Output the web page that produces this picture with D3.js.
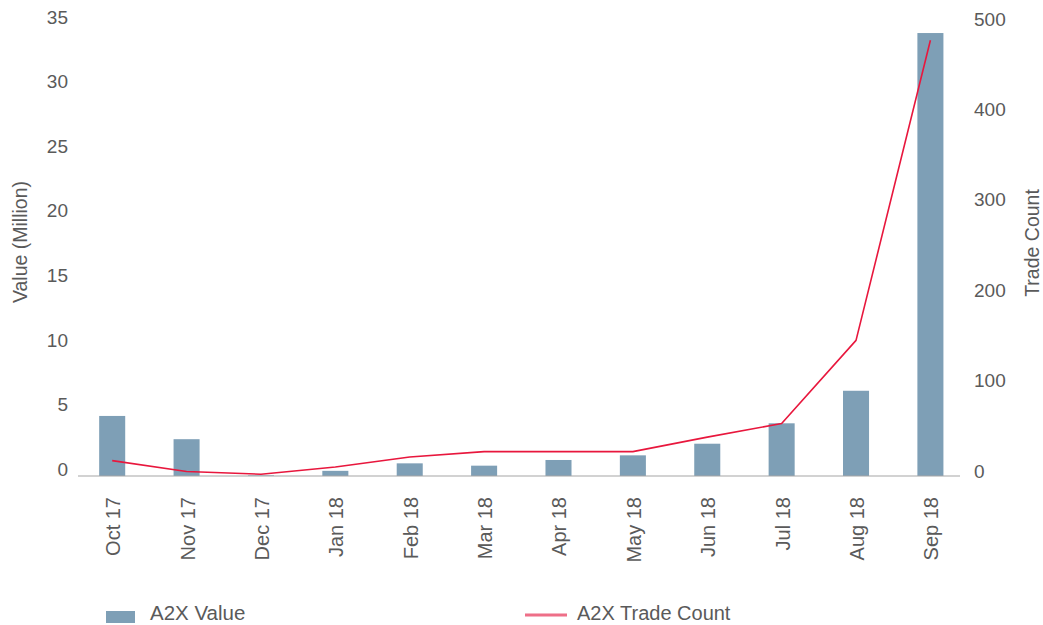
<!DOCTYPE html>
<html>
<head>
<meta charset="utf-8">
<script src="https://cdn.jsdelivr.net/npm/d3@7/dist/d3.min.js"></script>
<style>
  body { margin: 0; background: #fff; }
  text { font-family: "Liberation Sans", Arial, sans-serif; fill: #5a5a5a; }
</style>
</head>
<body>
<div id="chart"></div>
<script>
// chart data
const months = ['Oct 17', 'Nov 17', 'Dec 17', 'Jan 18', 'Feb 18', 'Mar 18',
                'Apr 18', 'May 18', 'Jun 18', 'Jul 18', 'Aug 18', 'Sep 18'];
const valueMillion = [4.65, 2.85, 0.05, 0.4, 0.98, 0.8, 1.24, 1.6, 2.5, 4.08, 6.6, 34.3];
const tradeCount = [17, 5, 2, 10, 21, 27, 27, 27, 43, 58, 150, 482];
const leftTicks = [0, 5, 10, 15, 20, 25, 30, 35];
const rightTicks = [0, 100, 200, 300, 400, 500];

const width = 1043, height = 625;
const barColor = '#7e9fb6';
const lineColor = '#e8173d';

const svg = d3.select('#chart').append('svg')
  .attr('width', width)
  .attr('height', height);

const x = d3.scaleBand()
  .domain(months)
  .range([75, 967.6])
  .paddingInner(0.65)
  .paddingOuter(0.325);

const yLeft = d3.scaleLinear().domain([0, 35]).range([476, 24]);
const yRight = d3.scaleLinear().domain([0, 500]).range([476, 24]);

// bars
svg.selectAll('.bar')
  .data(valueMillion)
  .enter().append('rect')
  .attr('class', 'bar')
  .attr('x', (d, i) => x(months[i]))
  .attr('y', d => yLeft(d))
  .attr('width', x.bandwidth())
  .attr('height', d => yLeft(0) - yLeft(d))
  .attr('fill', barColor);

// baseline
svg.append('line')
  .attr('x1', 78).attr('x2', 960)
  .attr('y1', yLeft(0)).attr('y2', yLeft(0))
  .attr('stroke', '#a6a6a6')
  .attr('stroke-width', 1.2);

// trade count line
const line = d3.line()
  .x((d, i) => x(months[i]) + x.bandwidth() / 2)
  .y(d => yRight(d));

svg.append('path')
  .datum(tradeCount)
  .attr('d', line)
  .attr('fill', 'none')
  .attr('stroke', lineColor)
  .attr('stroke-width', 1.6)
  .attr('stroke-linejoin', 'round');

// left axis labels
svg.selectAll('.ltick')
  .data(leftTicks)
  .enter().append('text')
  .attr('class', 'ltick')
  .attr('x', 68)
  .attr('y', d => yLeft(d) - 7)
  .attr('dy', '0.35em')
  .attr('text-anchor', 'end')
  .style('font-size', '19px')
  .text(d => d);

// right axis labels
svg.selectAll('.rtick')
  .data(rightTicks)
  .enter().append('text')
  .attr('class', 'rtick')
  .attr('x', 974)
  .attr('y', d => yRight(d) - 5)
  .attr('dy', '0.35em')
  .attr('text-anchor', 'start')
  .style('font-size', '19px')
  .text(d => d);

// x labels
svg.selectAll('.xtick')
  .data(months)
  .enter().append('text')
  .attr('class', 'xtick')
  .attr('transform', d => `translate(${x(d) + x.bandwidth() / 2 + 1},497) rotate(-90)`)
  .attr('dy', '0.35em')
  .attr('text-anchor', 'end')
  .style('font-size', '20px')
  .text(d => d);

// axis titles
svg.append('text')
  .attr('transform', 'translate(20,242) rotate(-90)')
  .attr('dy', '0.35em')
  .attr('text-anchor', 'middle')
  .style('font-size', '19.5px')
  .text('Value (Million)');

svg.append('text')
  .attr('transform', 'translate(1032,243) rotate(-90)')
  .attr('dy', '0.35em')
  .attr('text-anchor', 'middle')
  .style('font-size', '19.5px')
  .text('Trade Count');

// legend
const legend = svg.append('g');
legend.append('rect')
  .attr('x', 106).attr('y', 611)
  .attr('width', 29).attr('height', 12)
  .attr('fill', barColor);
legend.append('text')
  .attr('x', 150).attr('y', 620)
  .style('font-size', '20.5px')
  .text('A2X Value');
legend.append('line')
  .attr('x1', 525).attr('x2', 567)
  .attr('y1', 615).attr('y2', 615)
  .attr('stroke', '#ee6f88')
  .attr('stroke-width', 3);
legend.append('text')
  .attr('x', 577).attr('y', 620)
  .style('font-size', '20px')
  .text('A2X Trade Count');
</script>
</body>
</html>
